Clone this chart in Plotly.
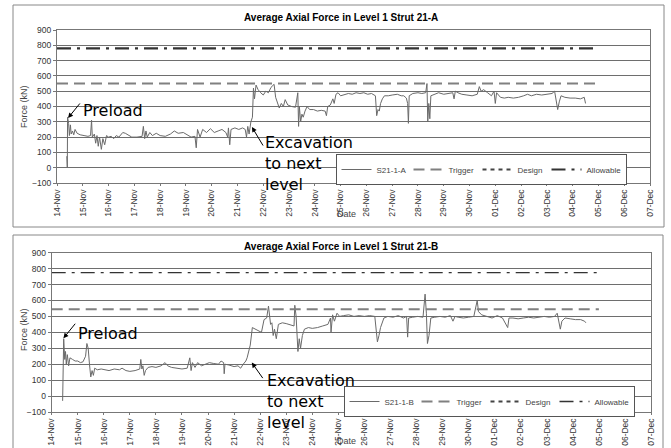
import plotly.graph_objects as go

# ---------------- data ----------------
tick_labels = ["14-Nov", "15-Nov", "16-Nov", "17-Nov", "18-Nov", "19-Nov", "20-Nov", "21-Nov",
               "22-Nov", "23-Nov", "24-Nov", "25-Nov", "26-Nov", "27-Nov", "28-Nov", "29-Nov",
               "30-Nov", "01-Dec", "02-Dec", "03-Dec", "04-Dec", "05-Dec", "06-Dec", "07-Dec"]
tick_days = list(range(len(tick_labels)))

# days after 14-Nov 00:00
a_days = [0.38, 0.40, 0.41, 0.45, 0.48, 0.52, 0.55, 0.60, 0.65, 0.70, 0.78, 0.90, 1.05, 1.20, 1.30,
          1.34, 1.37, 1.45, 1.50, 1.55, 1.60, 1.65, 1.72, 1.78, 1.85, 1.92, 2.00, 2.10, 2.20, 2.30,
          2.40, 2.55, 2.65, 2.75, 2.90, 3.10, 3.30, 3.35, 3.40, 3.45, 3.50, 3.60, 3.70, 3.85, 4.00,
          4.20, 4.40, 4.55, 4.70, 4.90, 5.05, 5.20, 5.35, 5.40, 5.45, 5.55, 5.65, 5.80, 5.95, 6.10,
          6.25, 6.40, 6.55, 6.62, 6.65, 6.70, 6.75, 6.90, 7.05, 7.20, 7.30, 7.35, 7.40, 7.45, 7.52,
          7.58, 7.62, 7.66, 7.72, 7.80, 7.90, 8.00, 8.10, 8.20, 8.30, 8.38, 8.42, 8.48, 8.55, 8.62,
          8.70, 8.78, 8.85, 8.95, 9.10, 9.25, 9.34, 9.37, 9.40, 9.45, 9.50, 9.55, 9.62, 9.70, 9.80,
          9.95, 10.10, 10.25, 10.40, 10.45, 10.50, 10.60, 10.70, 10.75, 10.82, 10.90, 11.00, 11.15,
          11.30, 11.45, 11.60, 11.75, 11.90, 12.05, 12.20, 12.35, 12.40, 12.45, 12.50, 12.55, 12.62,
          12.70, 12.85, 13.00, 13.20, 13.35, 13.45, 13.55, 13.60, 13.63, 13.66, 13.80, 14.00, 14.15,
          14.30, 14.35, 14.38, 14.42, 14.46, 14.50, 14.65, 14.80, 15.00, 15.20, 15.35, 15.40, 15.45,
          15.55, 15.70, 15.90, 16.10, 16.30, 16.38, 16.45, 16.55, 16.70, 16.85, 16.95, 17.00, 17.05,
          17.20, 17.35, 17.50, 17.70, 17.90, 18.10, 18.25, 18.40, 18.60, 18.80, 19.00, 19.20, 19.30,
          19.38, 19.42, 19.48, 19.55, 19.70, 19.90, 20.10, 20.30, 20.45, 20.50]
a_vals = [75, 0, 330, 290, 210, 280, 220, 240, 215, 250, 225, 215, 210, 205, 210,
          310, 200, 220, 160, 210, 140, 200, 120, 190, 150, 210, 200, 205, 190, 210,
          200, 230, 225, 215, 200, 200, 205, 270, 190, 240, 200, 230, 210, 225, 210,
          205, 220, 240, 225, 230, 215, 200, 205, 130, 250, 200, 250, 230, 255, 230,
          240, 250, 230, 200, 260, 150, 250, 260, 250, 260, 250, 200, 270, 220, 300,
          330, 520, 450, 540, 510, 490, 475, 500, 490, 525, 540, 545, 460, 420, 390,
          420, 400, 445, 410, 400, 395, 490, 270, 400, 300, 350, 330, 370, 400, 380,
          380, 370, 375, 370, 340, 400, 410, 450, 420, 480, 490, 470, 480,
          485, 480, 490, 485, 490, 480, 485, 470, 340, 380, 370, 420, 450,
          470, 470, 475, 480, 470, 470, 455, 420, 290, 470, 485, 490, 485,
          490, 550, 300, 420, 320, 470, 480, 490, 480, 485, 490, 450, 500,
          490, 480, 475, 470, 480, 530, 500, 510, 490, 470, 500, 420, 490,
          460, 455, 460, 455, 460, 470, 480, 470, 480, 475, 480, 485, 500,
          420, 380, 430, 470, 460, 455, 455, 450, 460, 420]

b_days = [0.42, 0.44, 0.46, 0.50, 0.53, 0.56, 0.60, 0.65, 0.70, 0.80, 0.90, 1.00, 1.10, 1.20, 1.30,
          1.35, 1.40, 1.45, 1.50, 1.55, 1.60, 1.65, 1.75, 1.90, 2.05, 2.20, 2.40, 2.60, 2.70, 2.85,
          3.00, 3.20, 3.38, 3.42, 3.46, 3.50, 3.55, 3.60, 3.70, 3.85, 4.00, 4.20, 4.35, 4.45, 4.60,
          4.80, 5.00, 5.20, 5.30, 5.35, 5.40, 5.50, 5.60, 5.75, 5.90, 6.05, 6.20, 6.40, 6.50, 6.60,
          6.62, 6.65, 6.80, 7.00, 7.15, 7.25, 7.35, 7.45, 7.50, 7.55, 7.62, 7.70, 7.80, 7.95, 8.05,
          8.15, 8.25, 8.32, 8.36, 8.40, 8.45, 8.50, 8.55, 8.62, 8.70, 8.85, 9.00, 9.15, 9.30, 9.33,
          9.38, 9.45, 9.50, 9.55, 9.62, 9.70, 9.85, 10.00, 10.20, 10.40, 10.60, 10.70, 10.72, 10.78,
          10.85, 10.95, 11.05, 11.20, 11.40, 11.60, 11.80, 12.00, 12.20, 12.40, 12.45, 12.50, 12.56,
          12.62, 12.75, 12.90, 13.10, 13.30, 13.50, 13.62, 13.66, 13.70, 13.85, 14.05, 14.25, 14.33,
          14.38, 14.42, 14.48, 14.55, 14.70, 14.90, 15.10, 15.30, 15.40, 15.48, 15.60, 15.80, 16.00,
          16.20, 16.33, 16.38, 16.50, 16.70, 16.90, 17.10, 17.30, 17.50, 17.55, 17.70, 17.90, 18.10,
          18.30, 18.50, 18.70, 18.90, 19.10, 19.30, 19.40, 19.48, 19.52, 19.58, 19.70, 19.90, 20.10,
          20.30, 20.45, 20.50]
b_vals = [-30, 100, 360, 230, 280, 200, 260, 190, 240, 230, 220, 220, 210, 215, 250,
          330, 300, 200, 120, 160, 130, 175, 165, 170, 165, 160, 170, 165, 175, 160,
          155, 160, 170, 230, 170, 190, 130, 160, 180, 185, 180, 190, 210, 190, 180,
          175, 170, 175, 240, 160, 210, 180, 210, 190, 200, 210, 205, 200, 220, 210,
          140, 200, 195, 185, 190, 175, 200, 220, 240, 280, 320, 430, 420, 410, 400,
          480, 490, 565, 520, 450, 460, 380, 420, 360, 450, 460, 455, 445, 440, 570,
          500, 280, 360, 300, 380, 420, 430, 425, 430, 440, 450, 490, 400, 510,
          470, 520, 500, 505, 510, 500, 505, 500, 505, 500, 400, 340, 380,
          430, 490, 500, 495, 505, 490, 500, 370, 490, 495, 500, 495, 640,
          520, 330, 380, 490, 495, 500, 495, 505, 470, 500, 495, 490, 495,
          500, 600, 530, 510, 500, 490, 505, 490, 430, 490, 490, 485, 490,
          495, 490, 495, 500, 495, 500, 520, 450, 420, 470, 490, 485, 480,
          480, 470, 460]

limit_days = [0, 21]
trigger_a = [550, 550]
allow_a = [780, 780]
trigger_b = [545, 545]
allow_b = [775, 775]

# ---------------- figure ----------------
W, H = 671, 448
fig = go.Figure()

def px_x(p):
    return p / W

def px_y(p):
    return 1 - p / H

tick_font = dict(family="Liberation Sans, Arial", size=8.5, color="#333333")

panels = [
    dict(sfx="", leg="legend", name="S21-1-A", days=a_days, vals=a_vals, trig=trigger_a,
         allow=allow_a, awidth=2.2, xdom=[px_x(57), px_x(650)], ydom=[px_y(183), px_y(30)]),
    dict(sfx="2", leg="legend2", name="S21-1-B", days=b_days, vals=b_vals, trig=trigger_b,
         allow=allow_b, awidth=1.3, xdom=[px_x(51.7), px_x(651)], ydom=[px_y(412), px_y(252.7)]),
]

for p in panels:
    xa = "x" + p["sfx"]
    ya = "y" + p["sfx"]
    fig.add_trace(go.Scatter(x=p["days"], y=p["vals"], mode="lines", name=p["name"],
                             line=dict(color="#6a6a6a", width=1), xaxis=xa, yaxis=ya,
                             legend=p["leg"], legendwidth=27))
    fig.add_trace(go.Scatter(x=limit_days, y=p["trig"], mode="lines", name="Trigger",
                             line=dict(color="#808080", width=2, dash="11px,6px"),
                             xaxis=xa, yaxis=ya, legend=p["leg"], legendwidth=24))
    fig.add_trace(go.Scatter(x=[None], y=[None], mode="lines", name="Design",
                             line=dict(color="#444444", width=2, dash="4px,4px"),
                             xaxis=xa, yaxis=ya, legend=p["leg"], legendwidth=24))
    fig.add_trace(go.Scatter(x=limit_days, y=p["allow"], mode="lines", name="Allowable",
                             line=dict(color="#333333", width=p["awidth"], dash="14px,6px,3px,6px"),
                             xaxis=xa, yaxis=ya, legend=p["leg"], legendwidth=34))

axis_common_x = dict(range=[0, 23], tickmode="array", tickvals=tick_days, ticktext=tick_labels,
                     tickangle=-90, tickfont=tick_font, showgrid=False, zeroline=False,
                     showline=True, linecolor="#777777", linewidth=1, mirror=True,
                     ticks="outside", ticklen=2, tickcolor="#777777", automargin=False)
axis_common_y = dict(range=[-100, 900], tickmode="linear", tick0=-100, dtick=100,
                     tickfont=tick_font, showgrid=True, gridcolor="#6e6e6e", gridwidth=1,
                     zeroline=False, showline=True, linecolor="#777777", linewidth=1,
                     mirror=True, ticks="outside", ticklen=3, tickcolor="#777777",
                     automargin=False)

fig.update_layout(
    xaxis=dict(axis_common_x, domain=panels[0]["xdom"], anchor="y"),
    yaxis=dict(axis_common_y, domain=panels[0]["ydom"], anchor="x"),
    xaxis2=dict(axis_common_x, domain=panels[1]["xdom"], anchor="y2"),
    yaxis2=dict(axis_common_y, domain=panels[1]["ydom"], anchor="x2"),
)

leg_common = dict(orientation="h", bgcolor="white", bordercolor="#555555", borderwidth=1,
                  font=dict(family="Liberation Sans, Arial", size=8, color="#444444"),
                  itemwidth=30, tracegroupgap=0, xanchor="center", yanchor="top")
fig.update_layout(
    legend=dict(leg_common, x=px_x(481), y=px_y(154)),
    legend2=dict(leg_common, x=px_x(489), y=px_y(386)),
)

shapes = [
    dict(type="rect", xref="paper", yref="paper", x0=px_x(13), x1=px_x(664),
         y0=px_y(227), y1=px_y(5), line=dict(color="#888888", width=1)),
    dict(type="rect", xref="paper", yref="paper", x0=px_x(13), x1=px_x(663),
         y0=px_y(449), y1=px_y(235), line=dict(color="#888888", width=1)),
]

annotations = []
titles = [("Average Axial Force in Level 1 Strut 21-A", 17, 214, 107),
          ("Average Axial Force in Level 1 Strut 21-B", 246, 441, 330)]
for t, ty, dy, fy in titles:
    annotations.append(dict(text="<b>" + t + "</b>", xref="paper", yref="paper",
                            x=px_x(341), y=px_y(ty), xanchor="center", yanchor="middle",
                            showarrow=False,
                            font=dict(family="Liberation Sans, Arial", size=10, color="black")))
    annotations.append(dict(text="Date", xref="paper", yref="paper", x=px_x(347), y=px_y(dy),
                            xanchor="center", yanchor="middle", showarrow=False,
                            font=dict(family="Liberation Sans, Arial", size=9, color="#444444")))
    annotations.append(dict(text="Force (kN)", xref="paper", yref="paper", x=px_x(24),
                            y=px_y(fy), xanchor="center", yanchor="middle",
                            showarrow=False, textangle=-90,
                            font=dict(family="Liberation Sans, Arial", size=9, color="#444444")))

big = dict(family="DejaVu Sans", size=16, color="black")
# Preload / Excavation labels (text) and arrows
label_specs = [
    ("x", "y", 0.43, 325, 0.95, 372, 8.0, 240),
    ("x2", "y2", 0.45, 363, 0.95, 395, 8.2, 170),
]
for xr, yr, px_, py_, tx, ty, ex, ey in label_specs:
    annotations.append(dict(text="Preload", xref=xr, yref=yr, x=tx, y=ty, xanchor="left",
                            yanchor="middle", showarrow=False, font=big))
    annotations.append(dict(text="", xref=xr, yref=yr, x=px_, y=py_, ax=13, ay=-16,
                            showarrow=True, arrowhead=2, arrowsize=1, arrowwidth=1,
                            arrowcolor="black"))
    annotations.append(dict(text="Excavation<br>to next<br>level", xref=xr, yref=yr, x=ex, y=ey,
                            xanchor="left", yanchor="top", align="left", showarrow=False,
                            font=big))
annotations.append(dict(text="", xref="x", yref="y", x=7.56, y=266, ax=12, ay=20,
                        showarrow=True, arrowhead=2, arrowsize=1, arrowwidth=1,
                        arrowcolor="black"))
annotations.append(dict(text="", xref="x2", yref="y2", x=7.68, y=210, ax=12, ay=17,
                        showarrow=True, arrowhead=2, arrowsize=1, arrowwidth=1,
                        arrowcolor="black"))

fig.update_layout(width=W, height=H, margin=dict(l=0, r=0, t=0, b=0, autoexpand=False),
                  paper_bgcolor="white", plot_bgcolor="white",
                  shapes=shapes, annotations=annotations, showlegend=True)

fig.write_html("out.html", config={"displayModeBar": False},
               post_script="document.body.style.margin='0px';")
